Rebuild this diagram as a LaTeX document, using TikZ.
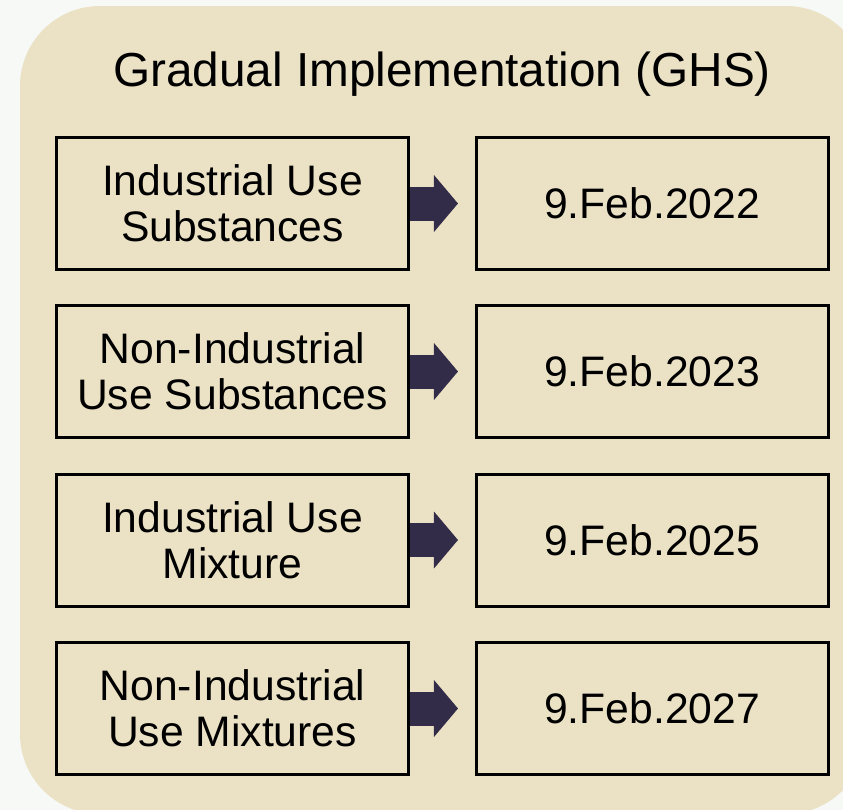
\documentclass[tikz,border=0pt]{standalone}
\usepackage{fontspec}
\setmainfont{Liberation Sans}
\usetikzlibrary{arrows.meta}

\definecolor{pagebg}{HTML}{F7F9F7}
\definecolor{panelbg}{HTML}{EBE2C5}
\definecolor{arrowfill}{HTML}{332C48}

\tikzset{
  stagebox/.style={draw=black, line width=2.25pt, minimum width=264pt, minimum height=99pt,
                   inner sep=0pt, align=center, font=\fontsize{32}{34.5}\selectfont},
  datebox/.style={stagebox},
  flowarrow/.style={draw=arrowfill, line width=25.5pt, shorten >=12.4pt,
                    -{Triangle[length=18pt, width=42.75pt, line width=0pt]}}
}

\begin{document}
\begin{tikzpicture}[x=0.75pt,y=-0.75pt]

  \useasboundingbox (0,0) rectangle (843,810);
  \begin{scope}
    \clip (0,0) rectangle (843,810);
    \fill[pagebg] (0,0) rectangle (843,810);
    \fill[panelbg, rounded corners=60pt] (20,6) rectangle (866,814);
  \end{scope}

  % heading
  \node[anchor=base, font=\fontsize{35.8}{40}\selectfont] (title) at (442,86) {Gradual Implementation (GHS)};

  % left column: product groups
  \node[stagebox] (s1) at (232.5,203.5) {Industrial Use\\Substances};
  \node[stagebox] (s2) at (232.5,371.5) {Non-Industrial\\Use Substances};
  \node[stagebox] (s3) at (232.5,540)   {Industrial Use\\Mixture};
  \node[stagebox] (s4) at (232.5,708.5) {Non-Industrial\\Use Mixtures};
  %
  % right column: deadlines
  \node[datebox] (d1) at (652,203.5) {9.Feb.2022};
  \node[datebox] (d2) at (652,371.5) {9.Feb.2023};
  \node[datebox] (d3) at (652,540)   {9.Feb.2025};
  \node[datebox] (d4) at (652,708.5) {9.Feb.2027};
  %
  \draw[flowarrow] (s1.east) -- (d1.west);
  \draw[flowarrow] (s2.east) -- (d2.west);
  \draw[flowarrow] (s3.east) -- (d3.west);
  \draw[flowarrow] (s4.east) -- (d4.west);

\end{tikzpicture}
\end{document}
